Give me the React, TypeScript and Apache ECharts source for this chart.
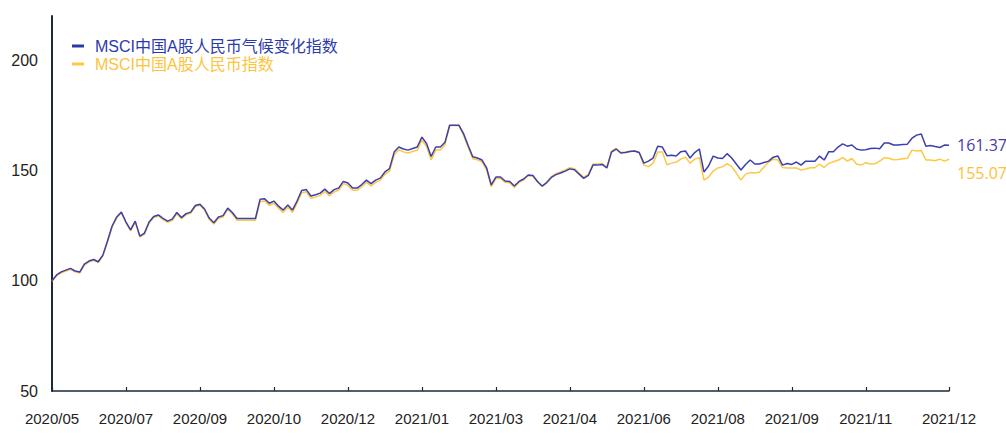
import React, { useEffect, useRef } from "react";
import * as echarts from "echarts";

const seriesNames = ["MSCI中国A股人民币气候变化指数", "MSCI中国A股人民币指数"];

const tickLabels = [
  "2020/05", "2020/07", "2020/09", "2020/10", "2020/12", "2021/01", "2021/03",
  "2021/04", "2021/06", "2021/08", "2021/09", "2021/11", "2021/12",
];

const climateValues = [
  100.0, 102.6, 104.0, 104.8, 105.6, 104.4, 103.9, 107.5, 108.9, 109.6,
  108.6, 111.6, 118.0, 124.8, 128.9, 131.1, 126.6, 123.0, 127.0, 120.2,
  121.6, 126.6, 129.1, 129.8, 128.3, 127.0, 127.9, 130.9, 128.6, 130.4,
  131.1, 134.1, 134.7, 132.5, 128.4, 126.3, 128.9, 129.5, 132.9, 130.9,
  128.2, 128.2, 128.2, 128.2, 128.2, 136.9, 137.1, 135.1, 136.1, 133.8,
  132.0, 134.3, 132.0, 136.1, 140.9, 141.3, 138.4, 139.0, 139.7, 141.5,
  139.5, 141.3, 142.0, 145.0, 144.3, 142.0, 142.0, 143.6, 145.6, 144.0,
  145.6, 146.5, 149.3, 150.8, 158.3, 160.6, 159.7, 159.2, 159.9, 160.6,
  165.1, 162.2, 156.3, 160.6, 160.6, 162.8, 170.5, 170.5, 170.5, 166.7,
  161.3, 156.2, 155.6, 154.7, 151.1, 143.4, 147.0, 147.0, 145.2, 145.0,
  142.9, 145.0, 146.1, 147.9, 147.7, 145.0, 142.9, 144.5, 146.8, 148.1,
  148.8, 149.7, 150.7, 150.3, 148.3, 146.4, 147.7, 152.4, 152.4, 152.7,
  151.1, 158.3, 159.7, 157.9, 158.1, 158.6, 158.8, 158.1, 153.3, 154.2,
  155.6, 161.0, 160.6, 156.7, 156.9, 156.5, 158.5, 158.8, 155.6, 158.1,
  159.7, 149.3, 152.0, 156.5, 155.6, 155.4, 157.6, 155.6, 152.9, 150.2,
  152.7, 154.7, 152.9, 152.9, 153.6, 154.2, 156.0, 156.5, 152.4, 153.1,
  152.7, 153.8, 152.4, 154.2, 154.2, 154.2, 156.5, 154.7, 158.5, 158.5,
  160.6, 162.0, 161.0, 161.5, 159.7, 159.2, 159.4, 159.9, 160.1, 159.8,
  162.4, 162.4, 161.5, 161.5, 161.7, 161.9, 164.6, 166.0, 166.5, 161.0,
  161.3, 160.8, 160.4, 161.5, 161.37,
];

const broadValues = [
  99.8, 102.3, 103.6, 104.4, 105.2, 104.0, 103.5, 107.1, 108.5, 109.2,
  108.2, 111.2, 117.5, 124.3, 128.4, 130.7, 126.2, 122.6, 126.6, 119.8,
  121.1, 126.1, 128.6, 129.3, 127.8, 126.5, 127.3, 130.4, 128.1, 129.9,
  130.6, 133.6, 134.2, 131.9, 127.8, 125.7, 128.3, 128.9, 132.3, 130.3,
  127.4, 127.4, 127.4, 127.4, 127.4, 135.9, 136.1, 134.1, 135.1, 132.8,
  131.0, 133.3, 131.0, 135.1, 139.9, 140.3, 137.4, 138.0, 138.7, 140.5,
  138.5, 140.3, 141.0, 144.0, 143.3, 141.0, 141.0, 142.6, 144.6, 143.0,
  144.6, 145.5, 148.2, 149.7, 157.0, 159.4, 158.4, 157.9, 158.6, 159.2,
  163.7, 160.8, 154.8, 159.2, 159.3, 161.6, 170.4, 170.4, 170.3, 166.0,
  160.5, 155.3, 154.8, 153.9, 150.3, 142.6, 146.3, 146.4, 144.6, 144.4,
  142.3, 144.5, 145.7, 147.6, 147.5, 144.8, 142.7, 144.6, 147.2, 148.6,
  149.3, 150.2, 151.2, 150.8, 148.8, 146.9, 148.2, 152.9, 152.9, 153.1,
  151.5, 158.7, 160.0, 158.2, 158.3, 158.7, 158.8, 158.0, 152.4, 151.7,
  153.3, 158.3, 158.4, 152.6, 153.3, 153.8, 155.1, 156.0, 153.3, 155.1,
  155.8, 145.6, 147.0, 149.7, 151.1, 151.6, 153.1, 151.7, 148.8, 145.6,
  148.3, 149.0, 148.8, 149.2, 151.5, 153.8, 155.1, 154.7, 151.3, 151.1,
  151.1, 151.1, 150.2, 150.6, 151.2, 151.2, 152.9, 151.3, 153.2, 153.9,
  154.6, 155.8, 154.2, 155.4, 152.9, 152.4, 153.5, 152.9, 153.0, 154.2,
  155.7, 155.5, 154.8, 154.9, 155.3, 155.5, 159.2, 158.8, 159.0, 154.7,
  154.7, 154.4, 155.1, 154.2, 155.07,
];

const labelStep = 16;
const lastTickIndex = 176;

export default function App() {
  const ref = useRef<HTMLDivElement>(null);

  useEffect(() => {
    if (!ref.current) return;
    const chart = echarts.init(ref.current, null, { renderer: "svg" });
    const n = climateValues.length;
    const categories = climateValues.map((_, i) => String(i));
    const showAt = (index: number) =>
      (index % labelStep === 0 && index <= lastTickIndex) || index === n - 1;

    const font = "'Liberation Sans', Arial, 'Noto Sans CJK SC', sans-serif";
    const axisColor = "#1c2a3a";

    chart.setOption({
      animation: false,
      backgroundColor: "#ffffff",
      grid: { left: 52, right: 57, top: 16, bottom: 42, containLabel: false },
      legend: {
        orient: "vertical",
        left: 67,
        top: 33,
        icon: "rect",
        itemWidth: 12,
        itemHeight: 3,
        itemGap: 2,
        textStyle: { fontSize: 16, fontFamily: font, padding: [0, 0, 0, 6] },
        data: [
          { name: seriesNames[0], textStyle: { color: "#2b3aab" } },
          { name: seriesNames[1], textStyle: { color: "#fcc43c" } },
        ],
      },
      xAxis: {
        type: "category",
        boundaryGap: false,
        data: categories,
        axisLine: { show: true, lineStyle: { color: axisColor, width: 1.5 } },
        axisTick: {
          show: true,
          inside: true,
          length: 4,
          interval: (index: number) => showAt(index),
          lineStyle: { color: axisColor, width: 1.2 },
        },
        axisLabel: {
          interval: (index: number) => showAt(index),
          formatter: (_v: string, index: number) =>
            index === n - 1 ? tickLabels[tickLabels.length - 1] : tickLabels[index / labelStep],
          color: "#222222",
          fontSize: 15,
          fontFamily: font,
          margin: 20,
        },
        splitLine: { show: false },
      },
      yAxis: {
        type: "value",
        min: 50,
        max: 220,
        interval: 50,
        axisLine: { show: true, lineStyle: { color: axisColor, width: 2 } },
        axisTick: { show: false },
        splitLine: { show: false },
        axisLabel: {
          color: "#222222",
          fontSize: 16,
          fontFamily: font,
          margin: 14,
          showMaxLabel: false,
        },
      },
      series: [
        {
          name: seriesNames[1],
          type: "line",
          data: broadValues,
          symbol: "none",
          lineStyle: { color: "#fdc845", width: 1.5 },
          itemStyle: { color: "#fdc845" },
          z: 2,
          endLabel: {
            show: true,
            formatter: (p: any) => Number(p.value).toFixed(2),
            color: "#fcc03a",
            fontSize: 16,
            fontFamily: "'Open Sans', 'Noto Sans', sans-serif",
            distance: 8,
            offset: [0, 14],
          },
        },
        {
          name: seriesNames[0],
          type: "line",
          data: climateValues,
          symbol: "none",
          lineStyle: { color: "#3c3fae", width: 1.5 },
          itemStyle: { color: "#2b3aab" },
          z: 3,
          endLabel: {
            show: true,
            formatter: (p: any) => Number(p.value).toFixed(2),
            color: "#4a3aa8",
            fontSize: 16,
            fontFamily: "'Open Sans', 'Noto Sans', sans-serif",
            distance: 8,
          },
        },
      ],
    });
    return () => chart.dispose();
  }, []);

  return <div ref={ref} style={{ width: 1006, height: 433, position: "absolute", left: 0, top: 0 }} />;
}
